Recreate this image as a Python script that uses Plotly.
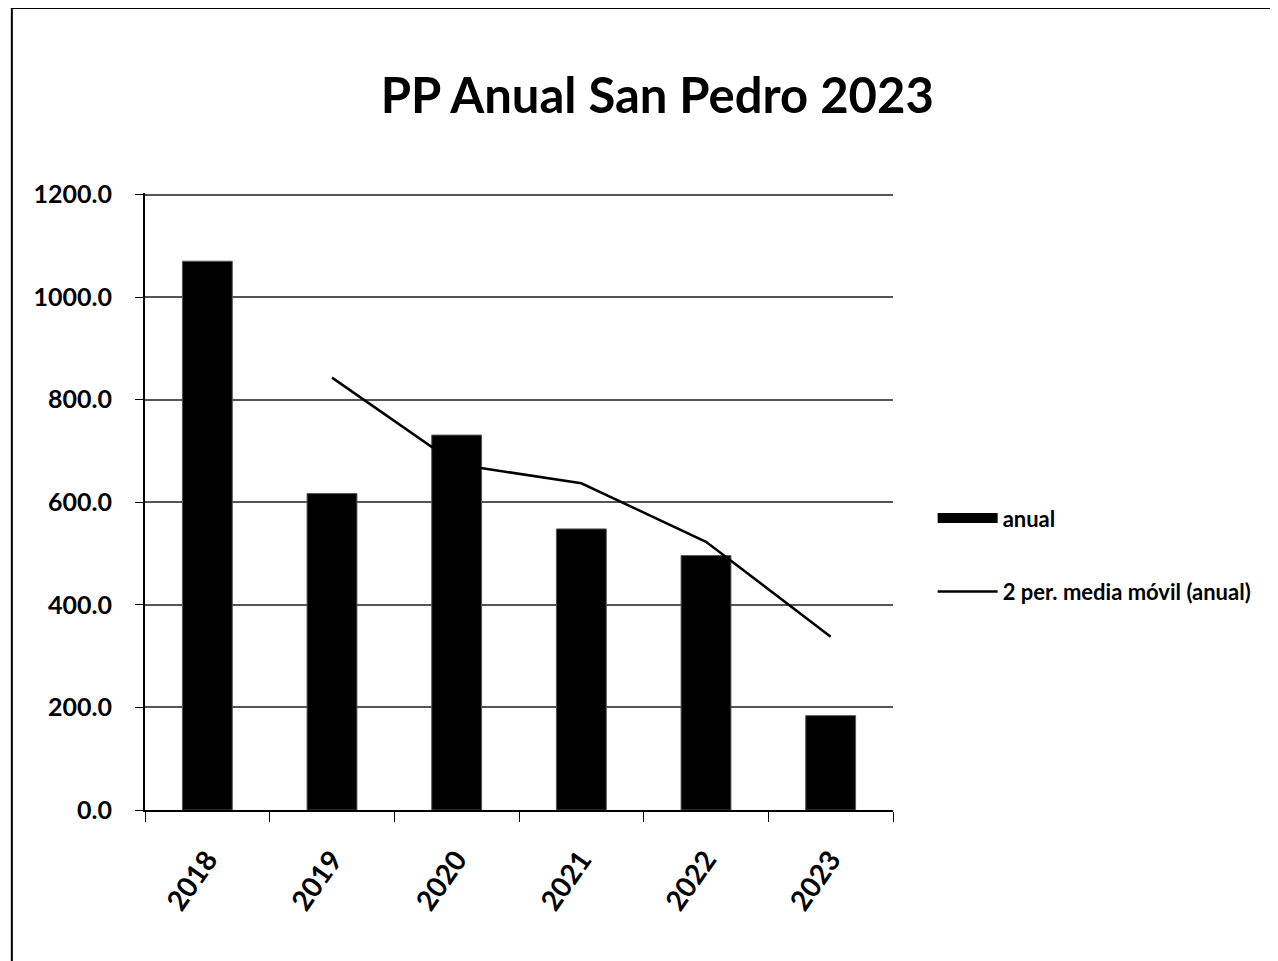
import plotly.graph_objects as go

years = ["2018", "2019", "2020", "2021", "2022", "2023"]
anual = [1070, 617, 731, 548, 496, 184]
ma_years = ["2019", "2020", "2021", "2022", "2023"]
media_movil = [843, 674, 637, 523, 338]
y_ticks = [0, 200, 400, 600, 800, 1000, 1200]
y_labels = ["0.0", "200.0", "400.0", "600.0", "800.0", "1000.0", "1200.0"]

FONT = "Lato"

fig = go.Figure()
fig.add_trace(go.Bar(x=years, y=anual, name="anual", showlegend=False,
                     marker=dict(color="black", line=dict(color="#555", width=1))))
# legend stand-in for the bar series (wide dark rectangle)
fig.add_trace(go.Scatter(x=[None], y=[None], mode="lines", name="anual",
                         legendgroup="a", line=dict(color="black", width=14)))
fig.add_trace(go.Scatter(x=ma_years, y=media_movil, mode="lines",
                         name="2 per. media móvil (anual)", legendgroup="b",
                         line=dict(color="black", width=2.5)))

fig.update_layout(
    width=1278, height=961,
    margin=dict(l=137, r=393, t=185, b=159),
    paper_bgcolor="white", plot_bgcolor="white",
    title=dict(text="<b>PP Anual San Pedro 2023</b>", x=0.508, xanchor="center",
               y=0.909, yanchor="middle", yref="container",
               font=dict(family=FONT, size=49, color="black")),
    bargap=0.6,
    showlegend=True,
    legend=dict(x=1.053, y=0.413, xanchor="left", yanchor="middle",
                font=dict(family=FONT, size=22, color="black", weight="bold"),
                tracegroupgap=42, itemwidth=60, bgcolor="rgba(0,0,0,0)"),
    font=dict(family=FONT, color="black"),
)
fig.update_yaxes(range=[0, 1203], tickvals=y_ticks, ticktext=y_labels,
                 showgrid=True, gridcolor="#555", gridwidth=2,
                 showline=True, linecolor="black", linewidth=2,
                 ticks="outside", ticklen=8, tickcolor="black",
                 ticklabelstandoff=18,
                 tickfont=dict(family=FONT, size=25, color="black", weight="bold"),
                 zeroline=False)
fig.update_xaxes(type="category", showline=True, linecolor="black", linewidth=2,
                 ticks="outside", ticklen=10, tickcolor="black", tickson="boundaries",
                 tickangle=-55, ticklabelstandoff=20,
                 tickfont=dict(family=FONT, size=28, color="black", weight="bold"),
                 showgrid=False)

# outer chart frame
fig.add_shape(type="rect", xref="paper", yref="paper",
              x0=-0.178, x1=1.52, y0=-0.26, y1=1.30,
              line=dict(color="black", width=2), fillcolor="rgba(0,0,0,0)", layer="below")

fig.write_html("out.html")
